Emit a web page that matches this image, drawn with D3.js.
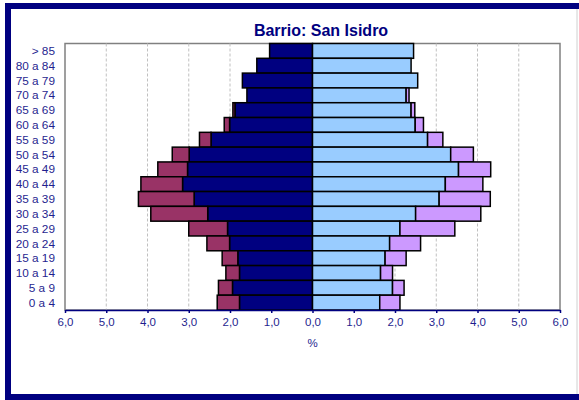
<!DOCTYPE html>
<html><head><meta charset="utf-8">
<script src="https://cdn.jsdelivr.net/npm/d3@7"></script>
<style>
html,body{margin:0;padding:0;background:#fff;}
svg{display:block;font-family:Arial,"Liberation Sans",sans-serif;}
</style></head>
<body>
<svg id="chart" width="579" height="400"></svg>
<script>
const title = "Barrio: San Isidro";
const categories = ["> 85","80 a 84","75 a 79","70 a 74","65 a 69","60 a 64","55 a 59","50 a 54","45 a 49","40 a 44","35 a 39","30 a 34","25 a 29","20 a 24","15 a 19","10 a 14","5 a 9","0 a 4"];
// left side (hombres): inner series + outer stacked series
const maleA = [1.04,1.35,1.70,1.59,1.88,2.01,2.46,2.99,3.03,3.15,2.87,2.54,2.06,2.01,1.81,1.77,1.94,1.77];
const maleB = [0,0,0,0,0.05,0.13,0.28,0.41,0.72,1.01,1.35,1.38,0.94,0.55,0.38,0.33,0.34,0.54];
// right side (mujeres)
const femaleA = [2.45,2.39,2.55,2.27,2.39,2.49,2.79,3.35,3.54,3.22,3.07,2.50,2.12,1.87,1.76,1.65,1.94,1.63];
const femaleB = [0,0,0,0.07,0.09,0.20,0.37,0.55,0.78,0.91,1.24,1.58,1.33,0.75,0.51,0.29,0.28,0.49];
const tickValues = [-6,-5,-4,-3,-2,-1,0,1,2,3,4,5,6];
const axisTitle = "%";

const svg = d3.select("#chart");
const navy = "#000080";

// outer frame
svg.append("rect").attr("x",8).attr("y",6).attr("width",600).attr("height",391)
  .attr("fill","#fff").attr("stroke",navy).attr("stroke-width",6);
svg.append("line").attr("x1",577).attr("x2",577).attr("y1",9).attr("y2",394)
  .attr("stroke","#d0d0d0").attr("stroke-width",1);

const L = 65, R = 560, T = 43.5, B = 310;
const x = d3.scaleLinear().domain([-6,6]).range([L,R]);
const y = d3.scaleBand().domain(categories).range([T,B]).padding(0);

// title
svg.append("text").attr("x",321).attr("y",35.5).attr("text-anchor","middle")
  .attr("font-size",16).attr("font-weight","bold").attr("fill",navy).text(title);

// plot border
svg.append("rect").attr("x",L).attr("y",T).attr("width",R-L).attr("height",B-T)
  .attr("fill","#fff").attr("stroke","#808080").attr("stroke-width",1.5);

// gridlines
svg.append("g").selectAll("line").data(tickValues.filter(d=>d!==-6&&d!==6)).join("line")
  .attr("x1",d=>x(d)).attr("x2",d=>x(d)).attr("y1",T).attr("y2",B)
  .attr("stroke","#c0c0c0").attr("stroke-width",1).attr("stroke-dasharray","3,2");

// bars
const rows = categories.map((c,i)=>({c, mA:maleA[i], mB:maleB[i], fA:femaleA[i], fB:femaleB[i]}));
const segs = [];
rows.forEach(r=>{
  segs.push({c:r.c, x0:-r.mA, x1:0, fill:navy});
  if (r.mB>0) segs.push({c:r.c, x0:-(r.mA+r.mB), x1:-r.mA, fill:"#993366"});
  segs.push({c:r.c, x0:0, x1:r.fA, fill:"#99ccff"});
  if (r.fB>0) segs.push({c:r.c, x0:r.fA, x1:r.fA+r.fB, fill:"#cc99ff"});
});
svg.append("g").selectAll("rect").data(segs).join("rect")
  .attr("x",d=>x(d.x0)).attr("width",d=>x(d.x1)-x(d.x0))
  .attr("y",d=>y(d.c)).attr("height",y.bandwidth())
  .attr("fill",d=>d.fill).attr("stroke","#000").attr("stroke-width",1.5);

// category labels
svg.append("g").selectAll("text").data(categories).join("text")
  .attr("x",55).attr("y",d=>y(d)+y.bandwidth()/2).attr("dy","0.35em")
  .attr("text-anchor","end").attr("font-size",11.8).attr("fill","#1f1f8f").text(d=>d);

// bottom axis
const fmt = d=>Math.abs(d).toFixed(1).replace(".",",");
const ax = svg.append("g").attr("transform",`translate(0,${B})`)
  .call(d3.axisBottom(x).tickValues(tickValues).tickFormat(fmt).tickSize(3).tickSizeOuter(0).tickPadding(5));
ax.select(".domain").attr("stroke",navy).attr("stroke-width",1.5);
ax.selectAll(".tick line").attr("stroke",navy).attr("stroke-width",1.5);
ax.selectAll(".tick text").attr("fill","#1f1f8f").attr("font-size",11.5).attr("font-family","Arial, 'Liberation Sans', sans-serif");

svg.append("text").attr("x",312.5).attr("y",347).attr("text-anchor","middle")
  .attr("font-size",11.5).attr("fill","#1f1f8f").text(axisTitle);
</script>
</body></html>
